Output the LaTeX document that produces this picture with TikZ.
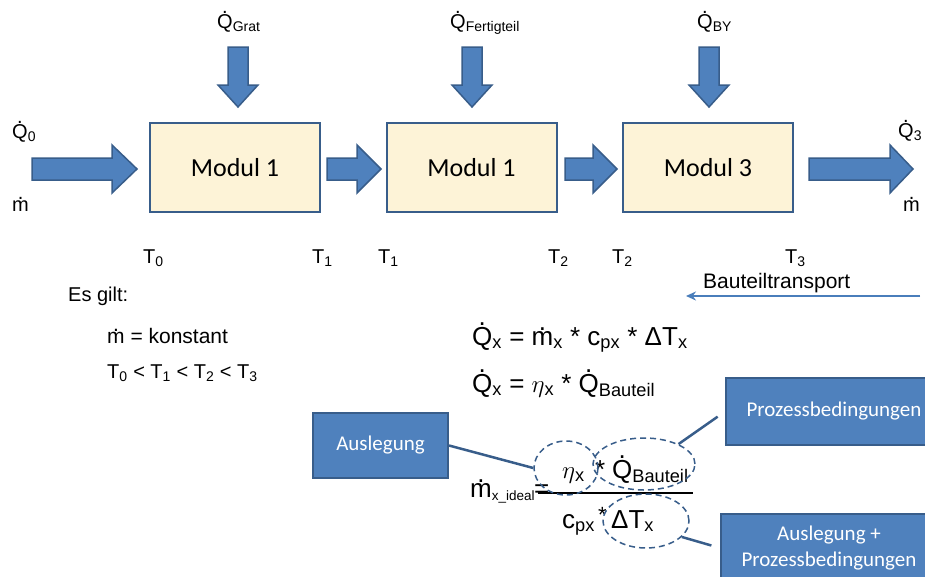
\documentclass[tikz,border=0pt]{standalone}
\usepackage{fontspec}
\usepackage{amsmath}
\setmainfont{Liberation Sans}
\newfontfamily\calib{Carlito}
\usetikzlibrary{shapes.geometric,arrows.meta}
\definecolor{blueF}{HTML}{4F81BD}
\definecolor{blueD}{HTML}{385D8A}
\definecolor{cream}{HTML}{FDF3D7}
\definecolor{lineB}{HTML}{4A7EBB}
\newcommand{\dotover}[2]{\leavevmode\setbox0=\hbox{#2}\hbox to\wd0{\hss\raisebox{#1}{.}\hss}\hskip-\wd0\box0}
\newcommand{\Qd}{\dotover{0.74em}{Q}}
\newcommand{\md}{\dotover{0.56em}{m}}
\newcommand{\sub}[1]{\textsubscript{#1}}
\newcommand{\rarr}[3]{\draw[blockarrow] (#1,158) -- (#2,158) -- (#2,145) -- (#3,169) -- (#2,193) -- (#2,180) -- (#1,180) -- cycle;}
\newcommand{\darr}[1]{\draw[blockarrow] (#1-10,47) -- (#1+10,47) -- (#1+10,85) -- (#1+20,85) -- (#1,107) -- (#1-20,85) -- (#1-10,85) -- cycle;}
\tikzset{
  modbox/.style={draw=blueD, line width=2pt, fill=cream, minimum width=170pt, minimum height=89pt, inner sep=0, font=\calib\fontsize{26}{31}\selectfont},
  bluebox/.style={draw=blueD, line width=2pt, fill=blueF, text=white, align=center, inner sep=0, font=\calib\fontsize{21}{26}\selectfont},
  lbl/.style={inner sep=0, anchor=base west, font=\fontsize{20}{24}\selectfont},
  eq/.style={inner sep=0, anchor=base west, font=\fontsize{26}{31}\selectfont},
  dell/.style={ellipse, draw=blueD, dash pattern=on 6pt off 4pt, line width=1.5pt, inner sep=0},
  conn/.style={draw=blueD, line width=2.5pt},
  blockarrow/.style={fill=blueF, draw=blueD, line width=1.5pt, line join=miter}
}
\begin{document}
\begin{tikzpicture}[x=1pt,y=-1pt]
\fill[white] (0,0) rectangle (925,576);
\clip (0,0) rectangle (925,576);
% block arrows
\rarr{32}{112}{137}
\rarr{327}{357}{381}
\rarr{565}{593}{617}
\rarr{809}{890}{913}
\darr{238}
\darr{472}
\darr{709}
% modules
\node[modbox] (m1) at (235,167.5) {Modul 1};
\node[modbox] (m2) at (471.5,167.5) {Modul 1};
\node[modbox] (m3) at (708,167.5) {Modul 3};
% top labels
\node[lbl] (qg) at (217,28) {\Qd\sub{Grat}};
\node[lbl] (qf) at (450,28) {\Qd\sub{Fertigteil}};
\node[lbl] (qb) at (697,28) {\Qd\sub{BY}};
\node[lbl] (q0) at (12,138) {\Qd\sub{0}};
\node[lbl] (mL) at (12,211) {\md};
\node[lbl] (q3) at (898,137) {\Qd\sub{3}};
\node[lbl] (mR) at (903,211) {\md};
% temperatures
\node[lbl] (t0) at (143,263) {T\sub{0}};
\node[lbl] (t1a) at (312,263) {T\sub{1}};
\node[lbl] (t1b) at (378,263) {T\sub{1}};
\node[lbl] (t2a) at (548,263) {T\sub{2}};
\node[lbl] (t2b) at (612,263) {T\sub{2}};
\node[lbl] (t3) at (785,263) {T\sub{3}};
% transport
\node[lbl, font=\fontsize{21}{25}\selectfont] (bt) at (703,288) {Bauteiltransport};
\coordinate (bt0) at (920,296);
\coordinate (bt1) at (686,296);
\draw[lineB, line width=2pt, -{Stealth[length=10pt,width=9pt]}] (bt0) -- (bt1);
% Es gilt
\node[lbl] (es) at (68,301) {Es gilt:};
\node[lbl, font=\fontsize{21}{25}\selectfont] (mk) at (107,343) {\md\ = konstant};
\node[lbl] (tt) at (107,378) {T\sub{0} < T\sub{1} < T\sub{2} < T\sub{3}};
% formulas
\node[eq] (f1) at (472,345) {\Qd\sub{x} = \md\sub{x} * c\sub{px} * ΔT\sub{x}};
\node[eq] (f2) at (472,392) {\Qd\sub{x} = $\eta$\sub{x} * \Qd\sub{Bauteil}};
% fraction
\node[eq] (mi) at (470,497) {\md\sub{\fontsize{13.5}{16}\selectfont x\_ideal}};
\node[eq] (eqs) at (534,497) {=};
\coordinate (fl0) at (538,493);
\coordinate (fl1) at (693,493);
\draw[line width=2.5pt] (fl0) -- (fl1);
\node[eq] (eta) at (562,478) {$\eta$\sub{x}};
\node[eq] (st1) at (595,478) {*};
\node[eq] (qbt) at (612,478) {\Qd\sub{Bauteil}};
\node[eq] (cpx) at (562,528) {c\sub{px}};
\node[eq] (st2) at (598,522) {\fontsize{22}{26}\selectfont *};
\node[eq] (dtx) at (611,528) {ΔT\sub{x}};
% ellipses
\node[dell, minimum width=64pt, minimum height=54pt] (e1) at (566,468) {};
\node[dell, minimum width=102pt, minimum height=52pt] (e2) at (644,464) {};
\node[dell, minimum width=86pt, minimum height=54pt] (e3) at (646,521) {};
% blue boxes
\node[bluebox, minimum width=135pt, minimum height=65pt] (ausl) at (380.5,445.5) {Auslegung};
\node[bluebox, minimum width=216pt, minimum height=67pt] (proz) at (834,411.5) {Prozessbedingungen};
\node[bluebox, minimum width=216pt, minimum height=68pt] (auslp) at (829,548) {Auslegung +\\Prozessbedingungen};
% connectors
\draw[conn] (ausl.east) -- (e1.west);
\draw[conn, shorten >=9pt] (e2.30) -- (proz.west);
\draw[conn, shorten >=9pt] (e3.-24) -- (auslp.west);
\end{tikzpicture}
\end{document}
